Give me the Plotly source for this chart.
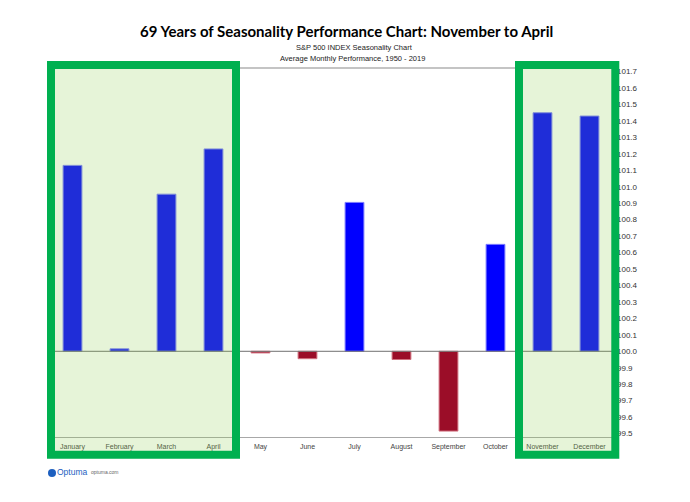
import plotly.graph_objects as go

months = ["January", "February", "March", "April", "May", "June", "July",
          "August", "September", "October", "November", "December"]
avg_perf = [101.13, 100.015, 100.955, 101.23, 99.99, 99.955, 100.905,
            99.95, 99.515, 100.65, 101.45, 101.43]
base_level = 100.0
y_ticks = [round(99.5 + 0.1 * i, 1) for i in range(23)]
y_tick_labels = [f"{v:.1f}" for v in y_ticks]

title_text = "69 Years of Seasonality Performance Chart: November to April"
subtitle1 = "S&P 500 INDEX Seasonality Chart"
subtitle2 = "Average Monthly Performance, 1950 - 2019"

W, H = 690, 502
L, R, T, B = 49, 77, 68, 65
PW, PH = W - L - R, H - T - B


def px(x):
    return (x - L) / PW


def py(y):
    return (H - B - y) / PH


colors = ["#0000ff" if v >= base_level else "#9b0d28" for v in avg_perf]
edge = ["#7c7cff" if v >= base_level else "#d0707e" for v in avg_perf]

fig = go.Figure()
fig.add_trace(go.Bar(
    x=months,
    y=[v - base_level for v in avg_perf],
    base=base_level,
    width=0.4,
    marker=dict(color=colors, line=dict(color=edge, width=1)),
    showlegend=False,
))

fig.update_layout(
    width=W, height=H,
    margin=dict(l=L, r=R, t=T, b=B),
    paper_bgcolor="white",
    plot_bgcolor="white",
    font=dict(family="Liberation Sans, Arial, sans-serif", color="#333333"),
    bargap=0.6,
)
fig.update_xaxes(
    showgrid=False, zeroline=False,
    showline=True, linecolor="#a8a8a8", linewidth=1,
    mirror=False, ticks="", tickfont=dict(size=7, color="#444444"),
    ticklabelstandoff=3,
)
fig.update_yaxes(
    side="right", range=[99.479, 101.722],
    tickvals=y_ticks, ticktext=y_tick_labels,
    showgrid=False, zeroline=False, showline=False, ticks="",
    tickfont=dict(size=8, color="#333333"),
    ticklabelstandoff=3,
)

shapes = []
# top border line of plot
shapes.append(dict(type="line", xref="paper", yref="paper", x0=0, x1=1, y0=1, y1=1,
                   line=dict(color="#c4c4c4", width=2)))
# baseline at 100
shapes.append(dict(type="line", xref="paper", yref="y", x0=0, x1=1,
                   y0=base_level, y1=base_level, line=dict(color="#707070", width=1)))
# green highlight boxes
for x0, x1 in [(51, 236), (519, 615.3)]:
    shapes.append(dict(type="rect", xref="paper", yref="paper", layer="above",
                       x0=px(x0), x1=px(x1), y0=py(65), y1=py(454.7),
                       fillcolor="rgba(141,205,77,0.22)",
                       line=dict(color="#00b050", width=8)))
# logo icon
shapes.append(dict(type="circle", xref="paper", yref="paper",
                   x0=px(48), x1=px(56), y0=py(477), y1=py(469),
                   fillcolor="#1d5fbf", line=dict(width=0)))
fig.update_layout(shapes=shapes)

ann = []
ann.append(dict(text=f"<b>{title_text}</b>", x=px(346), y=py(31), xref="paper", yref="paper",
                showarrow=False, xanchor="center", yanchor="middle",
                font=dict(family="Lato, sans-serif", size=15, color="#000000")))
ann.append(dict(text=subtitle1, x=px(354), y=py(47), xref="paper", yref="paper",
                showarrow=False, xanchor="center", yanchor="middle",
                font=dict(size=7.5, color="#222222")))
ann.append(dict(text=subtitle2, x=px(352), y=py(59), xref="paper", yref="paper",
                showarrow=False, xanchor="center", yanchor="middle",
                font=dict(size=7.5, color="#222222")))
ann.append(dict(text="Optuma", x=px(55), y=py(472), xref="paper", yref="paper",
                showarrow=False, xanchor="left", yanchor="middle",
                font=dict(size=8.5, color="#1d5fbf")))
ann.append(dict(text="optuma.com", x=px(89), y=py(472), xref="paper", yref="paper",
                showarrow=False, xanchor="left", yanchor="middle",
                font=dict(size=5, color="#666666")))
fig.update_layout(annotations=ann)

fig.write_html("out.html")
